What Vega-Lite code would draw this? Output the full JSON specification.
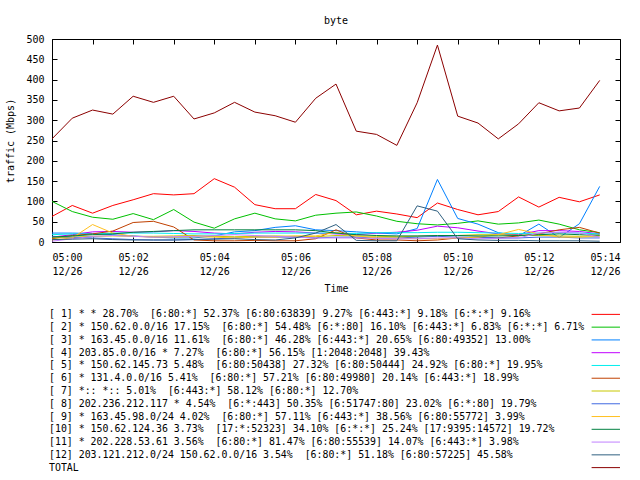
{
 "$schema": "https://vega.github.io/schema/vega-lite/v6.json",
 "background": "white",
 "padding": {"left": 5, "top": 15, "right": 0, "bottom": 0},
 "config": {
  "font": "DejaVu Sans Mono",
  "view": {"stroke": "black", "strokeWidth": 1},
  "axis": {"labelFont": "DejaVu Sans Mono", "labelFontSize": 10, "labelColor": "black", "titleFont": "DejaVu Sans Mono", "titleFontSize": 10, "titleFontWeight": "normal", "titleColor": "black", "tickColor": "black", "domain": false, "grid": false},
  "title": {"font": "DejaVu Sans Mono", "fontSize": 10, "fontWeight": "normal", "color": "black"}
 },
 "datasets": {
  "series": [
   {"t":"12/26 05:00:00","s":1,"v":63},{"t":"12/26 05:00:30","s":1,"v":90},{"t":"12/26 05:01:00","s":1,"v":71},{"t":"12/26 05:01:30","s":1,"v":90},{"t":"12/26 05:02:00","s":1,"v":104},{"t":"12/26 05:02:30","s":1,"v":119},{"t":"12/26 05:03:00","s":1,"v":116},{"t":"12/26 05:03:30","s":1,"v":119},{"t":"12/26 05:04:00","s":1,"v":156},{"t":"12/26 05:04:30","s":1,"v":135},{"t":"12/26 05:05:00","s":1,"v":92},{"t":"12/26 05:05:30","s":1,"v":82},{"t":"12/26 05:06:00","s":1,"v":82},{"t":"12/26 05:06:30","s":1,"v":117},{"t":"12/26 05:07:00","s":1,"v":102},{"t":"12/26 05:07:30","s":1,"v":67},{"t":"12/26 05:08:00","s":1,"v":76},{"t":"12/26 05:08:30","s":1,"v":69},{"t":"12/26 05:09:00","s":1,"v":60},{"t":"12/26 05:09:30","s":1,"v":96},{"t":"12/26 05:10:00","s":1,"v":80},{"t":"12/26 05:10:30","s":1,"v":67},{"t":"12/26 05:11:00","s":1,"v":75},{"t":"12/26 05:11:30","s":1,"v":111},{"t":"12/26 05:12:00","s":1,"v":86},{"t":"12/26 05:12:30","s":1,"v":110},{"t":"12/26 05:13:00","s":1,"v":99},{"t":"12/26 05:13:30","s":1,"v":116},
   {"t":"12/26 05:00:00","s":2,"v":100},{"t":"12/26 05:00:30","s":2,"v":75},{"t":"12/26 05:01:00","s":2,"v":61},{"t":"12/26 05:01:30","s":2,"v":56},{"t":"12/26 05:02:00","s":2,"v":70},{"t":"12/26 05:02:30","s":2,"v":55},{"t":"12/26 05:03:00","s":2,"v":80},{"t":"12/26 05:03:30","s":2,"v":49},{"t":"12/26 05:04:00","s":2,"v":34},{"t":"12/26 05:04:30","s":2,"v":57},{"t":"12/26 05:05:00","s":2,"v":71},{"t":"12/26 05:05:30","s":2,"v":57},{"t":"12/26 05:06:00","s":2,"v":52},{"t":"12/26 05:06:30","s":2,"v":66},{"t":"12/26 05:07:00","s":2,"v":71},{"t":"12/26 05:07:30","s":2,"v":74},{"t":"12/26 05:08:00","s":2,"v":64},{"t":"12/26 05:08:30","s":2,"v":51},{"t":"12/26 05:09:00","s":2,"v":45},{"t":"12/26 05:09:30","s":2,"v":42},{"t":"12/26 05:10:00","s":2,"v":46},{"t":"12/26 05:10:30","s":2,"v":52},{"t":"12/26 05:11:00","s":2,"v":44},{"t":"12/26 05:11:30","s":2,"v":47},{"t":"12/26 05:12:00","s":2,"v":54},{"t":"12/26 05:12:30","s":2,"v":44},{"t":"12/26 05:13:00","s":2,"v":30},{"t":"12/26 05:13:30","s":2,"v":23},
   {"t":"12/26 05:00:00","s":3,"v":22},{"t":"12/26 05:00:30","s":3,"v":22},{"t":"12/26 05:01:00","s":3,"v":21},{"t":"12/26 05:01:30","s":3,"v":18},{"t":"12/26 05:02:00","s":3,"v":15},{"t":"12/26 05:02:30","s":3,"v":12},{"t":"12/26 05:03:00","s":3,"v":10},{"t":"12/26 05:03:30","s":3,"v":10},{"t":"12/26 05:04:00","s":3,"v":15},{"t":"12/26 05:04:30","s":3,"v":25},{"t":"12/26 05:05:00","s":3,"v":28},{"t":"12/26 05:05:30","s":3,"v":36},{"t":"12/26 05:06:00","s":3,"v":40},{"t":"12/26 05:06:30","s":3,"v":30},{"t":"12/26 05:07:00","s":3,"v":28},{"t":"12/26 05:07:30","s":3,"v":25},{"t":"12/26 05:08:00","s":3,"v":22},{"t":"12/26 05:08:30","s":3,"v":20},{"t":"12/26 05:09:00","s":3,"v":33},{"t":"12/26 05:09:30","s":3,"v":154},{"t":"12/26 05:10:00","s":3,"v":58},{"t":"12/26 05:10:30","s":3,"v":44},{"t":"12/26 05:11:00","s":3,"v":23},{"t":"12/26 05:11:30","s":3,"v":15},{"t":"12/26 05:12:00","s":3,"v":44},{"t":"12/26 05:12:30","s":3,"v":11},{"t":"12/26 05:13:00","s":3,"v":45},{"t":"12/26 05:13:30","s":3,"v":137},
   {"t":"12/26 05:00:00","s":4,"v":12},{"t":"12/26 05:00:30","s":4,"v":18},{"t":"12/26 05:01:00","s":4,"v":25},{"t":"12/26 05:01:30","s":4,"v":26},{"t":"12/26 05:02:00","s":4,"v":24},{"t":"12/26 05:02:30","s":4,"v":25},{"t":"12/26 05:03:00","s":4,"v":28},{"t":"12/26 05:03:30","s":4,"v":26},{"t":"12/26 05:04:00","s":4,"v":22},{"t":"12/26 05:04:30","s":4,"v":20},{"t":"12/26 05:05:00","s":4,"v":24},{"t":"12/26 05:05:30","s":4,"v":26},{"t":"12/26 05:06:00","s":4,"v":25},{"t":"12/26 05:06:30","s":4,"v":22},{"t":"12/26 05:07:00","s":4,"v":20},{"t":"12/26 05:07:30","s":4,"v":18},{"t":"12/26 05:08:00","s":4,"v":22},{"t":"12/26 05:08:30","s":4,"v":24},{"t":"12/26 05:09:00","s":4,"v":29},{"t":"12/26 05:09:30","s":4,"v":39},{"t":"12/26 05:10:00","s":4,"v":35},{"t":"12/26 05:10:30","s":4,"v":27},{"t":"12/26 05:11:00","s":4,"v":20},{"t":"12/26 05:11:30","s":4,"v":18},{"t":"12/26 05:12:00","s":4,"v":28},{"t":"12/26 05:12:30","s":4,"v":28},{"t":"12/26 05:13:00","s":4,"v":26},{"t":"12/26 05:13:30","s":4,"v":20},
   {"t":"12/26 05:00:00","s":5,"v":18},{"t":"12/26 05:00:30","s":5,"v":20},{"t":"12/26 05:01:00","s":5,"v":20},{"t":"12/26 05:01:30","s":5,"v":22},{"t":"12/26 05:02:00","s":5,"v":22},{"t":"12/26 05:02:30","s":5,"v":22},{"t":"12/26 05:03:00","s":5,"v":21},{"t":"12/26 05:03:30","s":5,"v":20},{"t":"12/26 05:04:00","s":5,"v":20},{"t":"12/26 05:04:30","s":5,"v":21},{"t":"12/26 05:05:00","s":5,"v":22},{"t":"12/26 05:05:30","s":5,"v":22},{"t":"12/26 05:06:00","s":5,"v":22},{"t":"12/26 05:06:30","s":5,"v":22},{"t":"12/26 05:07:00","s":5,"v":22},{"t":"12/26 05:07:30","s":5,"v":21},{"t":"12/26 05:08:00","s":5,"v":23},{"t":"12/26 05:08:30","s":5,"v":23},{"t":"12/26 05:09:00","s":5,"v":23},{"t":"12/26 05:09:30","s":5,"v":24},{"t":"12/26 05:10:00","s":5,"v":24},{"t":"12/26 05:10:30","s":5,"v":23},{"t":"12/26 05:11:00","s":5,"v":22},{"t":"12/26 05:11:30","s":5,"v":21},{"t":"12/26 05:12:00","s":5,"v":22},{"t":"12/26 05:12:30","s":5,"v":23},{"t":"12/26 05:13:00","s":5,"v":22},{"t":"12/26 05:13:30","s":5,"v":20},
   {"t":"12/26 05:00:00","s":6,"v":8},{"t":"12/26 05:00:30","s":6,"v":16},{"t":"12/26 05:01:00","s":6,"v":20},{"t":"12/26 05:01:30","s":6,"v":27},{"t":"12/26 05:02:00","s":6,"v":48},{"t":"12/26 05:02:30","s":6,"v":51},{"t":"12/26 05:03:00","s":6,"v":37},{"t":"12/26 05:03:30","s":6,"v":5},{"t":"12/26 05:04:00","s":6,"v":3},{"t":"12/26 05:04:30","s":6,"v":3},{"t":"12/26 05:05:00","s":6,"v":4},{"t":"12/26 05:05:30","s":6,"v":3},{"t":"12/26 05:06:00","s":6,"v":3},{"t":"12/26 05:06:30","s":6,"v":8},{"t":"12/26 05:07:00","s":6,"v":30},{"t":"12/26 05:07:30","s":6,"v":10},{"t":"12/26 05:08:00","s":6,"v":5},{"t":"12/26 05:08:30","s":6,"v":5},{"t":"12/26 05:09:00","s":6,"v":3},{"t":"12/26 05:09:30","s":6,"v":5},{"t":"12/26 05:10:00","s":6,"v":10},{"t":"12/26 05:10:30","s":6,"v":12},{"t":"12/26 05:11:00","s":6,"v":10},{"t":"12/26 05:11:30","s":6,"v":15},{"t":"12/26 05:12:00","s":6,"v":20},{"t":"12/26 05:12:30","s":6,"v":30},{"t":"12/26 05:13:00","s":6,"v":36},{"t":"12/26 05:13:30","s":6,"v":22},
   {"t":"12/26 05:00:00","s":7,"v":10},{"t":"12/26 05:00:30","s":7,"v":12},{"t":"12/26 05:01:00","s":7,"v":14},{"t":"12/26 05:01:30","s":7,"v":15},{"t":"12/26 05:02:00","s":7,"v":14},{"t":"12/26 05:02:30","s":7,"v":14},{"t":"12/26 05:03:00","s":7,"v":15},{"t":"12/26 05:03:30","s":7,"v":16},{"t":"12/26 05:04:00","s":7,"v":14},{"t":"12/26 05:04:30","s":7,"v":13},{"t":"12/26 05:05:00","s":7,"v":14},{"t":"12/26 05:05:30","s":7,"v":15},{"t":"12/26 05:06:00","s":7,"v":14},{"t":"12/26 05:06:30","s":7,"v":13},{"t":"12/26 05:07:00","s":7,"v":16},{"t":"12/26 05:07:30","s":7,"v":15},{"t":"12/26 05:08:00","s":7,"v":14},{"t":"12/26 05:08:30","s":7,"v":13},{"t":"12/26 05:09:00","s":7,"v":14},{"t":"12/26 05:09:30","s":7,"v":15},{"t":"12/26 05:10:00","s":7,"v":16},{"t":"12/26 05:10:30","s":7,"v":18},{"t":"12/26 05:11:00","s":7,"v":18},{"t":"12/26 05:11:30","s":7,"v":17},{"t":"12/26 05:12:00","s":7,"v":16},{"t":"12/26 05:12:30","s":7,"v":15},{"t":"12/26 05:13:00","s":7,"v":14},{"t":"12/26 05:13:30","s":7,"v":16},
   {"t":"12/26 05:00:00","s":8,"v":14},{"t":"12/26 05:00:30","s":8,"v":12},{"t":"12/26 05:01:00","s":8,"v":10},{"t":"12/26 05:01:30","s":8,"v":8},{"t":"12/26 05:02:00","s":8,"v":6},{"t":"12/26 05:02:30","s":8,"v":5},{"t":"12/26 05:03:00","s":8,"v":5},{"t":"12/26 05:03:30","s":8,"v":6},{"t":"12/26 05:04:00","s":8,"v":8},{"t":"12/26 05:04:30","s":8,"v":10},{"t":"12/26 05:05:00","s":8,"v":12},{"t":"12/26 05:05:30","s":8,"v":12},{"t":"12/26 05:06:00","s":8,"v":12},{"t":"12/26 05:06:30","s":8,"v":10},{"t":"12/26 05:07:00","s":8,"v":12},{"t":"12/26 05:07:30","s":8,"v":12},{"t":"12/26 05:08:00","s":8,"v":10},{"t":"12/26 05:08:30","s":8,"v":10},{"t":"12/26 05:09:00","s":8,"v":12},{"t":"12/26 05:09:30","s":8,"v":14},{"t":"12/26 05:10:00","s":8,"v":12},{"t":"12/26 05:10:30","s":8,"v":12},{"t":"12/26 05:11:00","s":8,"v":10},{"t":"12/26 05:11:30","s":8,"v":10},{"t":"12/26 05:12:00","s":8,"v":12},{"t":"12/26 05:12:30","s":8,"v":12},{"t":"12/26 05:13:00","s":8,"v":10},{"t":"12/26 05:13:30","s":8,"v":10},
   {"t":"12/26 05:00:00","s":9,"v":5},{"t":"12/26 05:00:30","s":9,"v":10},{"t":"12/26 05:01:00","s":9,"v":43},{"t":"12/26 05:01:30","s":9,"v":22},{"t":"12/26 05:02:00","s":9,"v":14},{"t":"12/26 05:02:30","s":9,"v":12},{"t":"12/26 05:03:00","s":9,"v":12},{"t":"12/26 05:03:30","s":9,"v":13},{"t":"12/26 05:04:00","s":9,"v":12},{"t":"12/26 05:04:30","s":9,"v":10},{"t":"12/26 05:05:00","s":9,"v":12},{"t":"12/26 05:05:30","s":9,"v":12},{"t":"12/26 05:06:00","s":9,"v":15},{"t":"12/26 05:06:30","s":9,"v":15},{"t":"12/26 05:07:00","s":9,"v":24},{"t":"12/26 05:07:30","s":9,"v":15},{"t":"12/26 05:08:00","s":9,"v":10},{"t":"12/26 05:08:30","s":9,"v":10},{"t":"12/26 05:09:00","s":9,"v":8},{"t":"12/26 05:09:30","s":9,"v":8},{"t":"12/26 05:10:00","s":9,"v":10},{"t":"12/26 05:10:30","s":9,"v":12},{"t":"12/26 05:11:00","s":9,"v":18},{"t":"12/26 05:11:30","s":9,"v":31},{"t":"12/26 05:12:00","s":9,"v":20},{"t":"12/26 05:12:30","s":9,"v":12},{"t":"12/26 05:13:00","s":9,"v":12},{"t":"12/26 05:13:30","s":9,"v":14},
   {"t":"12/26 05:00:00","s":10,"v":12},{"t":"12/26 05:00:30","s":10,"v":15},{"t":"12/26 05:01:00","s":10,"v":18},{"t":"12/26 05:01:30","s":10,"v":20},{"t":"12/26 05:02:00","s":10,"v":24},{"t":"12/26 05:02:30","s":10,"v":26},{"t":"12/26 05:03:00","s":10,"v":28},{"t":"12/26 05:03:30","s":10,"v":30},{"t":"12/26 05:04:00","s":10,"v":30},{"t":"12/26 05:04:30","s":10,"v":30},{"t":"12/26 05:05:00","s":10,"v":30},{"t":"12/26 05:05:30","s":10,"v":30},{"t":"12/26 05:06:00","s":10,"v":30},{"t":"12/26 05:06:30","s":10,"v":28},{"t":"12/26 05:07:00","s":10,"v":22},{"t":"12/26 05:07:30","s":10,"v":18},{"t":"12/26 05:08:00","s":10,"v":16},{"t":"12/26 05:08:30","s":10,"v":15},{"t":"12/26 05:09:00","s":10,"v":15},{"t":"12/26 05:09:30","s":10,"v":16},{"t":"12/26 05:10:00","s":10,"v":16},{"t":"12/26 05:10:30","s":10,"v":15},{"t":"12/26 05:11:00","s":10,"v":15},{"t":"12/26 05:11:30","s":10,"v":16},{"t":"12/26 05:12:00","s":10,"v":18},{"t":"12/26 05:12:30","s":10,"v":20},{"t":"12/26 05:13:00","s":10,"v":18},{"t":"12/26 05:13:30","s":10,"v":17},
   {"t":"12/26 05:00:00","s":11,"v":2},{"t":"12/26 05:00:30","s":11,"v":8},{"t":"12/26 05:01:00","s":11,"v":14},{"t":"12/26 05:01:30","s":11,"v":16},{"t":"12/26 05:02:00","s":11,"v":14},{"t":"12/26 05:02:30","s":11,"v":12},{"t":"12/26 05:03:00","s":11,"v":13},{"t":"12/26 05:03:30","s":11,"v":14},{"t":"12/26 05:04:00","s":11,"v":16},{"t":"12/26 05:04:30","s":11,"v":18},{"t":"12/26 05:05:00","s":11,"v":16},{"t":"12/26 05:05:30","s":11,"v":14},{"t":"12/26 05:06:00","s":11,"v":12},{"t":"12/26 05:06:30","s":11,"v":10},{"t":"12/26 05:07:00","s":11,"v":10},{"t":"12/26 05:07:30","s":11,"v":10},{"t":"12/26 05:08:00","s":11,"v":9},{"t":"12/26 05:08:30","s":11,"v":8},{"t":"12/26 05:09:00","s":11,"v":8},{"t":"12/26 05:09:30","s":11,"v":10},{"t":"12/26 05:10:00","s":11,"v":10},{"t":"12/26 05:10:30","s":11,"v":8},{"t":"12/26 05:11:00","s":11,"v":9},{"t":"12/26 05:11:30","s":11,"v":10},{"t":"12/26 05:12:00","s":11,"v":22},{"t":"12/26 05:12:30","s":11,"v":24},{"t":"12/26 05:13:00","s":11,"v":22},{"t":"12/26 05:13:30","s":11,"v":12},
   {"t":"12/26 05:00:00","s":12,"v":6},{"t":"12/26 05:00:30","s":12,"v":7},{"t":"12/26 05:01:00","s":12,"v":8},{"t":"12/26 05:01:30","s":12,"v":6},{"t":"12/26 05:02:00","s":12,"v":5},{"t":"12/26 05:02:30","s":12,"v":5},{"t":"12/26 05:03:00","s":12,"v":5},{"t":"12/26 05:03:30","s":12,"v":6},{"t":"12/26 05:04:00","s":12,"v":7},{"t":"12/26 05:04:30","s":12,"v":8},{"t":"12/26 05:05:00","s":12,"v":6},{"t":"12/26 05:05:30","s":12,"v":5},{"t":"12/26 05:06:00","s":12,"v":10},{"t":"12/26 05:06:30","s":12,"v":22},{"t":"12/26 05:07:00","s":12,"v":43},{"t":"12/26 05:07:30","s":12,"v":4},{"t":"12/26 05:08:00","s":12,"v":3},{"t":"12/26 05:08:30","s":12,"v":3},{"t":"12/26 05:09:00","s":12,"v":89},{"t":"12/26 05:09:30","s":12,"v":76},{"t":"12/26 05:10:00","s":12,"v":8},{"t":"12/26 05:10:30","s":12,"v":5},{"t":"12/26 05:11:00","s":12,"v":4},{"t":"12/26 05:11:30","s":12,"v":4},{"t":"12/26 05:12:00","s":12,"v":3},{"t":"12/26 05:12:30","s":12,"v":3},{"t":"12/26 05:13:00","s":12,"v":3},{"t":"12/26 05:13:30","s":12,"v":2},
   {"t":"12/26 05:00:00","s":13,"v":254},{"t":"12/26 05:00:30","s":13,"v":305},{"t":"12/26 05:01:00","s":13,"v":325},{"t":"12/26 05:01:30","s":13,"v":315},{"t":"12/26 05:02:00","s":13,"v":359},{"t":"12/26 05:02:30","s":13,"v":344},{"t":"12/26 05:03:00","s":13,"v":359},{"t":"12/26 05:03:30","s":13,"v":303},{"t":"12/26 05:04:00","s":13,"v":318},{"t":"12/26 05:04:30","s":13,"v":344},{"t":"12/26 05:05:00","s":13,"v":320},{"t":"12/26 05:05:30","s":13,"v":311},{"t":"12/26 05:06:00","s":13,"v":295},{"t":"12/26 05:06:30","s":13,"v":354},{"t":"12/26 05:07:00","s":13,"v":389},{"t":"12/26 05:07:30","s":13,"v":273},{"t":"12/26 05:08:00","s":13,"v":265},{"t":"12/26 05:08:30","s":13,"v":238},{"t":"12/26 05:09:00","s":13,"v":343},{"t":"12/26 05:09:30","s":13,"v":485},{"t":"12/26 05:10:00","s":13,"v":310},{"t":"12/26 05:10:30","s":13,"v":293},{"t":"12/26 05:11:00","s":13,"v":254},{"t":"12/26 05:11:30","s":13,"v":291},{"t":"12/26 05:12:00","s":13,"v":343},{"t":"12/26 05:12:30","s":13,"v":323},{"t":"12/26 05:13:00","s":13,"v":330},{"t":"12/26 05:13:30","s":13,"v":398}
  ],
  "legend": [
   {"s":1,"label":"[ 1] * * 28.70% \u00a0[6:80:*] 52.37% [6:80:63839] 9.27% [6:443:*] 9.18% [6:*:*] 9.16%"},
   {"s":2,"label":"[ 2] * 150.62.0.0/16 17.15% \u00a0[6:80:*] 54.48% [6:*:80] 16.10% [6:443:*] 6.83% [6:*:*] 6.71%"},
   {"s":3,"label":"[ 3] * 163.45.0.0/16 11.61% \u00a0[6:80:*] 46.28% [6:443:*] 20.65% [6:80:49352] 13.00%"},
   {"s":4,"label":"[ 4] 203.85.0.0/16 * 7.27% \u00a0[6:80:*] 56.15% [1:2048:2048] 39.43%"},
   {"s":5,"label":"[ 5] * 150.62.145.73 5.48% \u00a0[6:80:50438] 27.32% [6:80:50444] 24.92% [6:80:*] 19.95%"},
   {"s":6,"label":"[ 6] * 131.4.0.0/16 5.41% \u00a0[6:80:*] 57.21% [6:80:49980] 20.14% [6:443:*] 18.99%"},
   {"s":7,"label":"[ 7] *:: *:: 5.01% \u00a0[6:443:*] 58.12% [6:80:*] 12.70%"},
   {"s":8,"label":"[ 8] 202.236.212.117 * 4.54% \u00a0[6:*:443] 50.35% [6:51747:80] 23.02% [6:*:80] 19.79%"},
   {"s":9,"label":"[ 9] * 163.45.98.0/24 4.02% \u00a0[6:80:*] 57.11% [6:443:*] 38.56% [6:80:55772] 3.99%"},
   {"s":10,"label":"[10] * 150.62.124.36 3.73% \u00a0[17:*:52323] 34.10% [6:*:*] 25.24% [17:9395:14572] 19.72%"},
   {"s":11,"label":"[11] * 202.228.53.61 3.56% \u00a0[6:80:*] 81.47% [6:80:55539] 14.07% [6:443:*] 3.98%"},
   {"s":12,"label":"[12] 203.121.212.0/24 150.62.0.0/16 3.54% \u00a0[6:80:*] 51.18% [6:80:57225] 45.58%"},
   {"s":13,"label":"TOTAL"}
  ]
 },
 "bounds": "flush",
 "spacing": 66,
 "vconcat": [
  {
   "width": 568,
   "height": 203,
   "title": {"text": "byte", "offset": 8},
   "data": {"name": "series", "format": {"parse": {"t": "date:'%m/%d %H:%M:%S'"}}},
   "layer": [
    {
     "mark": {"type": "line", "strokeWidth": 1, "clip": true},
     "encoding": {
      "x": {"field": "t", "type": "temporal",
       "scale": {"domain": [{"year": 1900, "month": 12, "date": 26, "hours": 5, "minutes": 0}, {"year": 1900, "month": 12, "date": 26, "hours": 5, "minutes": 14}], "nice": false},
       "axis": {"orient": "bottom", "title": "Time", "titlePadding": 7, "tickSize": -5, "labelPadding": 15, "labelOverlap": false, "labelLineHeight": 14,
        "values": [{"year":1900,"month":12,"date":26,"hours":5,"minutes":0},{"year":1900,"month":12,"date":26,"hours":5,"minutes":1},{"year":1900,"month":12,"date":26,"hours":5,"minutes":2},{"year":1900,"month":12,"date":26,"hours":5,"minutes":3},{"year":1900,"month":12,"date":26,"hours":5,"minutes":4},{"year":1900,"month":12,"date":26,"hours":5,"minutes":5},{"year":1900,"month":12,"date":26,"hours":5,"minutes":6},{"year":1900,"month":12,"date":26,"hours":5,"minutes":7},{"year":1900,"month":12,"date":26,"hours":5,"minutes":8},{"year":1900,"month":12,"date":26,"hours":5,"minutes":9},{"year":1900,"month":12,"date":26,"hours":5,"minutes":10},{"year":1900,"month":12,"date":26,"hours":5,"minutes":11},{"year":1900,"month":12,"date":26,"hours":5,"minutes":12},{"year":1900,"month":12,"date":26,"hours":5,"minutes":13},{"year":1900,"month":12,"date":26,"hours":5,"minutes":14}],
        "labelExpr": "minutes(datum.value) % 2 == 0 ? [timeFormat(datum.value, '%H:%M'), timeFormat(datum.value, '%m/%d')] : ''"}},
      "y": {"field": "v", "type": "quantitative",
       "scale": {"domain": [0, 500], "nice": false},
       "axis": {"orient": "left", "title": "traffic (Mbps)", "titlePadding": 10, "tickSize": -5, "labelPadding": 13, "values": [0,50,100,150,200,250,300,350,400,450,500]}},
      "color": {"field": "s", "type": "nominal", "legend": null,
       "scale": {"domain": [1,2,3,4,5,6,7,8,9,10,11,12,13], "range": ["#ff0000","#00c000","#0080ff","#c000ff","#00eeee","#c04000","#c8c800","#4169e1","#ffc020","#008040","#c080ff","#306080","#8b0000"]}}
     }
    },
    {
     "mark": {"type": "line", "opacity": 0},
     "encoding": {
      "x": {"field": "t", "type": "temporal",
       "axis": {"orient": "top", "title": null, "labels": false, "tickSize": -5,
        "values": [{"year":1900,"month":12,"date":26,"hours":5,"minutes":0},{"year":1900,"month":12,"date":26,"hours":5,"minutes":1},{"year":1900,"month":12,"date":26,"hours":5,"minutes":2},{"year":1900,"month":12,"date":26,"hours":5,"minutes":3},{"year":1900,"month":12,"date":26,"hours":5,"minutes":4},{"year":1900,"month":12,"date":26,"hours":5,"minutes":5},{"year":1900,"month":12,"date":26,"hours":5,"minutes":6},{"year":1900,"month":12,"date":26,"hours":5,"minutes":7},{"year":1900,"month":12,"date":26,"hours":5,"minutes":8},{"year":1900,"month":12,"date":26,"hours":5,"minutes":9},{"year":1900,"month":12,"date":26,"hours":5,"minutes":10},{"year":1900,"month":12,"date":26,"hours":5,"minutes":11},{"year":1900,"month":12,"date":26,"hours":5,"minutes":12},{"year":1900,"month":12,"date":26,"hours":5,"minutes":13},{"year":1900,"month":12,"date":26,"hours":5,"minutes":14}]}},
      "y": {"field": "v", "type": "quantitative",
       "axis": {"orient": "right", "title": null, "labels": false, "tickSize": -5, "values": [0,50,100,150,200,250,300,350,400,450,500]}},
      "detail": {"field": "s"}
     }
    }
   ],
   "resolve": {"axis": {"x": "independent", "y": "independent"}}
  },
  {
   "width": 568,
   "height": 166,
   "view": {"stroke": null},
   "data": {"name": "legend"},
   "encoding": {"y": {"field": "s", "type": "ordinal", "scale": {"type": "point", "padding": 0.5}, "axis": null}},
   "layer": [
    {
     "mark": {"type": "text", "align": "left", "baseline": "middle", "font": "DejaVu Sans Mono", "fontSize": 9.9, "color": "black", "dx": -3},
     "encoding": {
      "x": {"datum": 0, "type": "quantitative", "scale": {"domain": [0, 1]}, "axis": null},
      "text": {"field": "label"}
     }
    },
    {
     "mark": {"type": "rule", "strokeWidth": 1},
     "encoding": {
      "x": {"datum": 0.95, "type": "quantitative", "axis": null},
      "x2": {"datum": 1},
      "color": {"field": "s", "type": "nominal", "legend": null,
       "scale": {"domain": [1,2,3,4,5,6,7,8,9,10,11,12,13], "range": ["#ff0000","#00c000","#0080ff","#c000ff","#00eeee","#c04000","#c8c800","#4169e1","#ffc020","#008040","#c080ff","#306080","#8b0000"]}}
     }
    }
   ]
  }
 ]
}
